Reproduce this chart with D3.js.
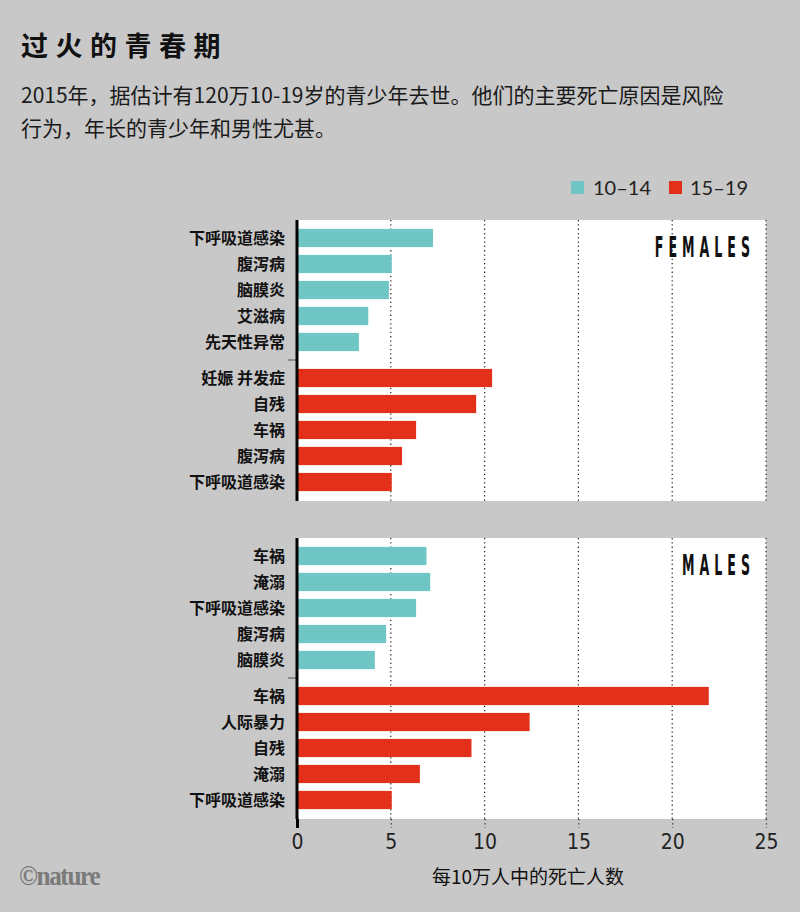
<!DOCTYPE html>
<html><head><meta charset="utf-8">
<script src="https://cdn.jsdelivr.net/npm/d3@7"></script>
<style>
html,body{margin:0;padding:0;background:#c8c8c8;}
svg{display:block;}
</style></head>
<body>
<script>
// ---- data ----
const title = "过火的青春期";
const subtitleLines = ["2015年，据估计有120万10-19岁的青少年去世。他们的主要死亡原因是风险", "行为，年长的青少年和男性尤甚。"];
const seriesNames = ["10–14", "15–19"];
const seriesColors = ["#6fc6c4", "#e3301a"];

const femaleCats1014 = ["下呼吸道感染", "腹泻病", "脑膜炎", "艾滋病", "先天性异常"];
const femaleVals1014 = [7.25, 5.05, 4.9, 3.8, 3.3];
const femaleCats1519 = ["妊娠 并发症", "自残", "车祸", "腹泻病", "下呼吸道感染"];
const femaleVals1519 = [10.4, 9.55, 6.35, 5.6, 5.05];

const maleCats1014 = ["车祸", "淹溺", "下呼吸道感染", "腹泻病", "脑膜炎"];
const maleVals1014 = [6.9, 7.1, 6.35, 4.75, 4.15];
const maleCats1519 = ["车祸", "人际暴力", "自残", "淹溺", "下呼吸道感染"];
const maleVals1519 = [21.95, 12.4, 9.3, 6.55, 5.05];

const xTicks = [0, 5, 10, 15, 20, 25];
const xTitle = "每10万人中的死亡人数";

// ---- drawing ----
const W = 800, H = 912;
const svg = d3.select("body").append("svg").attr("width", W).attr("height", H);
svg.append("rect").attr("width", W).attr("height", H).attr("fill", "#c8c8c8");

const cjk = "'Noto Sans CJK SC', 'Noto Sans', sans-serif";
const narrow = "'DejaVu Sans Condensed', 'DejaVu Sans', sans-serif";

svg.append("text").attr("x", 21).attr("y", 56).text(title)
  .attr("font-family", cjk).attr("font-weight", 700).attr("font-size", 27)
  .attr("letter-spacing", 7.5).attr("fill", "#111");
subtitleLines.forEach((s, i) => {
  svg.append("text").attr("x", 21).attr("y", 103 + i * 33).text(s)
    .attr("font-family", cjk).attr("font-size", 21).attr("fill", "#1a1a1a");
});

// legend
const legend = svg.append("g");
[[571, 593], [669, 690]].forEach((p, i) => {
  legend.append("rect").attr("x", p[0]).attr("y", 181).attr("width", 13).attr("height", 13).attr("fill", seriesColors[i]);
  legend.append("text").attr("x", p[1]).attr("y", 195).text(seriesNames[i])
    .attr("font-family", "'Lato', 'Noto Sans', sans-serif").attr("font-size", 20).attr("fill", "#222");
});

const x = d3.scaleLinear().domain([0, 25]).range([297, 766]);

function panel(top, bottom, cats1, vals1, cats2, vals2, label, sepY) {
  const g = svg.append("g");
  g.append("rect").attr("x", x(0)).attr("y", top).attr("width", x(25) - x(0)).attr("height", bottom - top).attr("fill", "#fff");
  // gridlines
  g.selectAll(".grid").data(xTicks.slice(1)).join("line")
    .attr("x1", d => x(d)).attr("x2", d => x(d)).attr("y1", top).attr("y2", bottom)
    .attr("stroke", "#222").attr("stroke-width", 1.2).attr("stroke-dasharray", "1.3,3");
  const band1 = d3.scaleBand().domain(d3.range(5)).range([top + 5, top + 135]).paddingInner(0.3).paddingOuter(0.15);
  const band2 = d3.scaleBand().domain(d3.range(5)).range([sepY + 5, sepY + 135]).paddingInner(0.3).paddingOuter(0.15);
  const cats = cats1.map((c, i) => ({c, v: vals1[i], y: band1(i), s: 0}));
  cats2.forEach((c, i) => cats.push({c, v: vals2[i], y: band2(i), s: 1}));
  const bh = band1.bandwidth();
  g.selectAll(".bar").data(cats).join("rect")
    .attr("x", x(0)).attr("y", d => d.y).attr("width", d => x(d.v) - x(0)).attr("height", bh)
    .attr("fill", d => seriesColors[d.s]);
  g.selectAll(".lab").data(cats).join("text")
    .attr("x", 285).attr("y", d => d.y + bh / 2).attr("dy", "0.36em")
    .attr("text-anchor", "end").text(d => d.c)
    .attr("font-family", cjk).attr("font-weight", 700).attr("font-size", 16).attr("fill", "#111");
  // separator tick
  g.append("line").attr("x1", 288).attr("x2", 297).attr("y1", sepY).attr("y2", sepY)
    .attr("stroke", "#666").attr("stroke-width", 1.2);
  // axis line
  g.append("line").attr("x1", x(0)).attr("x2", x(0)).attr("y1", top).attr("y2", bottom)
    .attr("stroke", "#000").attr("stroke-width", 3);
  g.append("text").attr("transform", `translate(755,${top + 37}) scale(0.5,1)`)
    .attr("text-anchor", "end").text(label)
    .attr("font-family", narrow).attr("font-weight", 700)
    .attr("font-size", 28).attr("letter-spacing", 10).attr("fill", "#111");
}

panel(220, 501, femaleCats1014, femaleVals1014, femaleCats1519, femaleVals1519, "FEMALES", 360);
panel(538, 819, maleCats1014, maleVals1014, maleCats1519, maleVals1519, "MALES", 678);

// bottom axis
const axisG = svg.append("g").attr("transform", "translate(0,819)");
const ax = d3.axisBottom(x).tickValues(xTicks).tickSize(9).tickPadding(6);
axisG.call(ax);
axisG.select(".domain").remove();
axisG.selectAll(".tick line").attr("stroke", "#222").attr("stroke-width", 1.2).attr("stroke-dasharray", "1.3,3");
axisG.selectAll(".tick").filter(d => d === 0).select("line").attr("stroke-dasharray", null).attr("stroke-width", 3).attr("stroke", "#000");
axisG.selectAll(".tick text").attr("font-family", narrow)
  .attr("font-size", 21).attr("fill", "#222");

svg.append("text").attr("x", 528).attr("y", 884).attr("text-anchor", "middle").text(xTitle)
  .attr("font-family", cjk).attr("font-size", 19).attr("fill", "#111");

svg.append("text").attr("transform", "translate(19,885) scale(0.9,1)").text("©nature")
  .attr("font-family", "'Liberation Serif', 'DejaVu Serif', serif").attr("font-size", 28)
  .attr("font-weight", 700).attr("letter-spacing", -1.5).attr("fill", "#7a7a7a");
</script>
</body></html>
